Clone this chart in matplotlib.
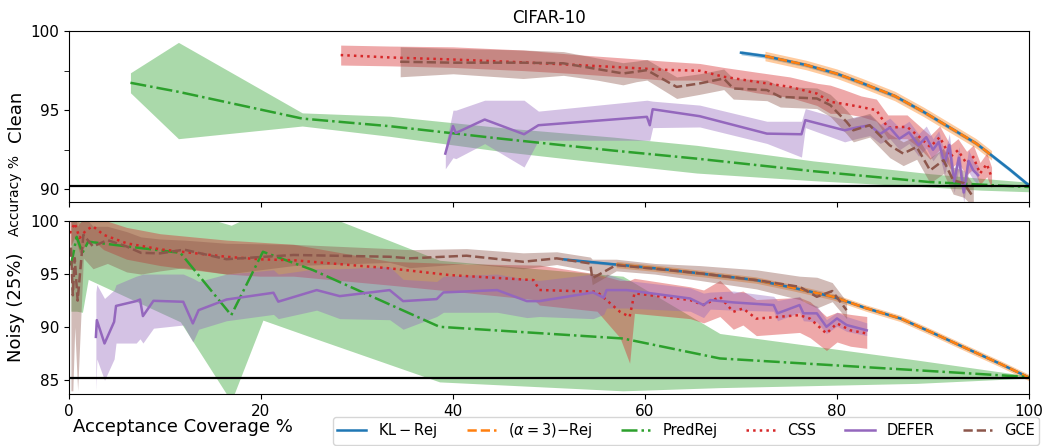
import numpy as np
import matplotlib
matplotlib.use("Agg")
import matplotlib.pyplot as plt
from matplotlib.ticker import FixedLocator
from matplotlib.lines import Line2D

# ---------------- DATA: top panel (Clean) ----------------
kl_top_x = [70.0, 72.5, 76.8, 80.0, 82.7, 86.0, 89.0, 92.5, 94.5, 96.1, 98.0, 100.0]
kl_top_y = [98.63, 98.42, 97.85, 97.3, 96.69, 95.9, 94.9, 93.63, 92.9, 92.15, 91.25, 90.25]
a3_top_x = [72.5, 76.8, 80.0, 82.7, 86.0, 89.0, 92.5, 94.5, 96.1]
a3_top_y = [98.42, 97.85, 97.3, 96.69, 95.9, 94.9, 93.63, 92.9, 92.15]

pr_top_x = [6.4, 11.4, 24.3, 33.4, 45.0, 56.7, 65.4, 77.5, 89.7, 95.0, 100.0]
pr_top_y = [96.73, 96.16, 94.47, 93.99, 93.2, 92.45, 91.94, 91.15, 90.46, 90.3, 90.15]
pr_top_lo = [96.1, 93.2, 94.0, 93.35, 92.4, 91.6, 91.03, 90.55, 90.15, 89.95, 89.85]
pr_top_hi = [97.36, 99.28, 94.83, 94.62, 93.9, 93.3, 92.78, 91.8, 90.99, 90.7, 90.45]

css_top_x = [28.3, 33.4, 40.0, 47.3, 53.0, 57.7, 62.0, 65.7, 68.2, 71.6, 75.1, 77.9, 79.3,
             80.7, 82.5, 84.1, 85.3, 87.3, 88.6, 89.7, 90.7, 91.8, 92.6, 93.5, 94.2, 94.9,
             95.6, 96.1]
css_top_y = [98.48, 98.33, 98.2, 98.02, 97.85, 97.7, 97.55, 97.49, 97.11, 96.79, 96.47, 96.05,
             95.53, 95.4, 95.2, 95.0, 93.9, 93.95, 93.3, 92.68, 93.3, 92.05, 92.47, 91.63,
             92.05, 91.0, 91.6, 90.78]
css_top_lo = [97.85, 97.8, 97.7, 97.5, 97.3, 97.1, 96.9, 96.9, 96.5, 96.1, 95.8, 95.3, 94.8,
              94.8, 94.6, 94.3, 93.2, 93.2, 92.6, 91.9, 92.5, 91.3, 91.7, 90.9, 91.3, 90.3,
              90.8, 90.1]
css_top_hi = [99.11, 99.05, 99.0, 98.8, 98.5, 98.3, 98.1, 97.95, 97.7, 97.4, 97.1, 96.7, 96.58,
              96.3, 95.9, 95.7, 94.7, 94.7, 94.0, 93.4, 94.0, 92.8, 93.2, 92.4, 92.8, 91.7,
              92.3, 91.4]

gce_top_x = [34.5, 40.0, 47.3, 51.5, 55.0, 57.7, 59.1, 60.2, 63.3, 65.7, 68.2, 69.2, 72.7,
             74.1, 77.9, 79.3, 81.0, 81.7, 83.4, 85.5, 86.9, 88.3, 89.7, 91.1, 92.1, 93.2,
             94.2]
gce_top_y = [98.06, 98.0, 98.0, 97.96, 97.6, 97.32, 97.43, 97.53, 96.47, 96.69, 97.0, 96.37,
             96.27, 95.84, 95.74, 95.32, 94.26, 93.73, 94.05, 92.78, 92.26, 92.68, 91.2, 91.84,
             90.57, 90.4, 89.5]
gce_top_lo = [97.11, 97.3, 97.0, 97.2, 96.9, 96.6, 96.8, 96.9, 95.74, 96.0, 96.3, 95.7, 95.6,
              95.2, 95.1, 94.6, 93.5, 93.0, 93.3, 92.0, 91.5, 91.9, 90.4, 91.0, 89.7, 89.5,
              88.9]
gce_top_hi = [99.0, 98.9, 98.8, 98.7, 98.3, 98.0, 98.1, 98.2, 97.1, 97.3, 97.6, 97.0, 96.9,
              96.5, 96.4, 96.0, 95.0, 94.5, 94.8, 93.5, 93.0, 93.4, 92.0, 92.6, 91.4, 91.2,
              90.3]

df_top_x = [39.2, 40.0, 40.3, 43.3, 47.4, 48.9, 60.2, 60.5, 60.8, 65.7, 72.7, 76.3, 76.7,
            80.8, 82.0, 83.4, 84.5, 85.5, 86.5, 87.5, 88.5, 89.3, 90.0, 90.6, 91.2, 91.7,
            92.2, 92.7, 93.2, 93.7, 94.2, 94.7]
df_top_y = [92.26, 94.0, 93.56, 94.41, 93.48, 94.05, 94.58, 94.05, 95.06, 94.62, 93.52, 93.48,
            94.37, 93.73, 93.9, 94.05, 93.5, 93.9, 93.2, 93.6, 92.8, 93.3, 92.5, 93.0, 91.6,
            92.8, 90.5, 92.0, 89.8, 91.8, 91.2, 90.9]
df_top_lo = [91.3, 92.0, 91.94, 92.89, 91.41, 93.1, 93.1, 93.1, 93.9, 93.94, 92.9, 92.04, 93.9,
             93.0, 93.2, 93.4, 92.9, 93.2, 92.5, 92.9, 92.1, 92.6, 91.8, 92.3, 90.9, 92.1,
             89.8, 91.3, 89.2, 91.1, 90.6, 90.3]
df_top_hi = [92.7, 95.0, 95.0, 95.63, 95.63, 94.94, 95.63, 95.6, 95.57, 95.32, 94.3, 94.3, 95.1,
             94.4, 94.6, 94.7, 94.1, 94.5, 93.9, 94.3, 93.5, 94.0, 93.2, 93.7, 92.3, 93.5,
             91.2, 92.7, 90.5, 92.5, 91.8, 91.5]

# ---------------- DATA: bottom panel (Noisy 25%) ----------------
kl_bot_x = [51.5, 57.0, 61.0, 65.7, 71.6, 75.5, 79.6, 83.0, 86.6, 90.0, 93.5, 97.0, 100.0]
kl_bot_y = [96.39, 95.9, 95.55, 95.07, 94.43, 93.7, 92.86, 91.8, 90.82, 89.45, 87.99, 86.55, 85.25]
a3_bot_x = [57.0, 61.0, 65.7, 71.6, 75.5, 79.6, 83.0, 86.6, 90.0, 93.5, 97.0, 100.0]
a3_bot_y = [95.9, 95.55, 95.07, 94.43, 93.7, 92.86, 91.8, 90.82, 89.45, 87.99, 86.55, 85.25]

pr_bot_x = [0.2, 0.8, 1.4, 2.0, 11.6, 16.9, 20.2, 25.4, 38.6, 57.7, 67.8, 88.3, 100.0]
pr_bot_y = [95.8, 98.5, 97.0, 98.05, 97.0, 91.13, 97.1, 95.38, 90.03, 88.93, 87.05, 85.94, 85.3]
pr_bot_lo = [91.5, 91.5, 91.4, 94.5, 90.5, 83.0, 90.66, 89.0, 84.84, 84.0, 84.3, 84.7, 85.2]
pr_bot_hi = [100.5, 101.0, 101.0, 101.0, 101.0, 99.6, 101.0, 101.0, 96.3, 94.8, 89.4, 86.9, 85.4]

css_bot_x = [0.1, 0.6, 1.1, 1.8, 2.5, 3.6, 6.0, 9.5, 16.4, 19.9, 23.4, 33.4, 39.7, 48.4, 49.0,
             55.0, 57.4, 58.4, 58.9, 64.7, 66.1, 67.8, 69.2, 70.2, 71.6, 76.1, 77.2, 78.9,
             80.0, 81.4, 83.1]
css_bot_y = [98.84, 99.8, 98.4, 99.15, 99.5, 98.7, 97.9, 97.33, 96.63, 96.39, 96.3, 95.54, 94.9,
             94.43, 93.5, 93.33, 91.44, 90.97, 93.18, 92.55, 92.08, 92.86, 91.44, 91.76, 90.8,
             91.13, 90.8, 89.4, 90.35, 89.7, 89.4]
css_bot_lo = [97.5, 98.5, 97.0, 97.8, 98.2, 97.3, 96.4, 95.8, 95.0, 94.8, 94.8, 93.96, 93.4,
              92.6, 92.08, 91.5, 89.0, 86.6, 91.3, 90.8, 90.4, 91.0, 89.8, 90.2, 89.2, 89.5,
              89.0, 87.8, 88.6, 88.2, 88.0]
css_bot_hi = [100.2, 101.0, 99.8, 100.4, 100.8, 100.1, 99.4, 98.8, 98.2, 98.0, 97.8, 96.2, 96.0,
              95.85, 95.85, 95.0, 94.4, 94.4, 94.6, 93.8, 93.5, 94.4, 93.2, 93.4, 92.6, 92.8,
              92.4, 91.0, 91.4, 91.2, 91.0]

gce_bot_x = [0.2, 0.4, 0.6, 0.9, 1.5, 2.5, 4.0, 6.0, 7.5, 9.5, 12.0, 16.4, 23.4, 33.4, 35.5,
             41.4, 47.3, 50.8, 54.3, 54.5, 57.0, 61.0, 65.7, 71.6, 76.1, 77.9, 79.5, 81.0]
gce_bot_y = [97.5, 93.0, 96.5, 92.5, 98.7, 97.6, 98.2, 97.6, 97.0, 96.95, 97.3, 96.4, 96.8,
             96.63, 96.48, 96.73, 96.16, 96.48, 96.0, 94.6, 95.85, 95.5, 95.07, 94.43, 93.8,
             92.86, 93.4, 91.6]
gce_bot_lo = [84.0, 84.0, 90.0, 84.0, 96.5, 95.5, 96.0, 95.2, 95.0, 95.3, 95.6, 95.0, 95.8,
              96.1, 95.6, 96.0, 95.5, 95.9, 95.3, 94.0, 95.3, 95.0, 94.4, 93.6, 92.6, 91.8,
              92.4, 90.8]
gce_bot_hi = [100.5, 100.5, 100.5, 99.5, 100.5, 99.5, 99.5, 99.0, 98.5, 98.3, 98.2, 97.9, 97.8,
              97.4, 97.3, 97.4, 97.0, 97.1, 96.6, 96.4, 96.4, 96.0, 95.8, 95.4, 94.8, 94.7,
              94.2, 92.4]

df_bot_x = [2.8, 2.9, 3.7, 4.7, 4.9, 7.0, 7.4, 7.7, 8.8, 11.9, 12.9, 13.5, 16.4, 21.3, 21.8,
            25.8, 28.2, 33.4, 34.8, 38.3, 39.0, 44.6, 47.7, 49.0, 54.6, 55.7, 56.0, 58.1, 64.7,
            66.1, 66.8, 69.2, 73.4, 73.8, 76.1, 76.5, 77.9, 78.9, 80.0, 81.0, 83.1]
df_bot_y = [89.08, 90.66, 88.46, 90.5, 92.0, 92.45, 92.6, 91.04, 92.48, 92.39, 90.35, 91.6,
            92.6, 93.24, 92.4, 93.49, 92.92, 93.49, 92.45, 92.64, 93.27, 93.49, 92.45, 92.45,
            93.27, 92.77, 93.49, 93.49, 92.7, 92.08, 92.55, 92.33, 92.08, 91.3, 92.08, 91.3,
            91.3, 90.03, 90.82, 90.2, 89.7]
df_bot_lo = [84.0, 87.0, 85.0, 87.0, 88.5, 88.5, 88.9, 88.5, 89.9, 90.2, 88.6, 89.8, 90.6,
             91.2, 90.8, 91.6, 90.8, 90.7, 89.8, 91.0, 91.4, 91.4, 90.9, 91.0, 90.8, 91.2,
             91.8, 91.8, 91.5, 90.9, 91.7, 91.6, 91.5, 90.6, 91.4, 90.6, 90.5, 89.4, 90.1,
             89.6, 89.2]
df_bot_hi = [93.3, 94.0, 92.7, 93.5, 94.0, 94.8, 94.9, 95.0, 95.0, 95.0, 94.6, 94.3, 95.0,
             95.4, 95.0, 95.5, 95.5, 95.7, 94.5, 94.3, 94.8, 95.0, 94.5, 94.4, 95.0, 94.6,
             95.0, 94.4, 93.7, 93.2, 93.3, 93.4, 92.9, 92.5, 92.9, 92.4, 92.0, 90.7, 91.4,
             91.0, 90.4]

base_clean = 90.2
base_noisy = 85.25

labels = [r"$\mathrm{KL-Rej}$", r"$(\alpha=3)$" + "\u2212Rej", "PredRej", "CSS", "DEFER", "GCE"]
colors = ["tab:blue", "tab:orange", "tab:green", "tab:red", "tab:purple", "tab:brown"]

# ---------------- FIGURE ----------------
fig = plt.figure(figsize=(10.47, 4.46), dpi=100)
ax1 = fig.add_axes([0.0659, 0.547, 0.9169, 0.3835])
ax2 = fig.add_axes([0.0659, 0.1166, 0.9169, 0.3879], sharex=ax1)

A = 0.4
LW = 1.8


def panel(ax, kl, a3, pr, css, gce, df, base):
    ax.fill_between(kl[0], np.array(kl[1]) - 0.13, np.array(kl[1]) + 0.13,
                    color=colors[0], alpha=A, lw=0)
    ax.plot(kl[0], kl[1], color=colors[0], lw=LW, ls="-")
    ax.fill_between(a3[0], np.array(a3[1]) - 0.3, np.array(a3[1]) + 0.3,
                    color=colors[1], alpha=A, lw=0)
    ax.plot(a3[0], a3[1], color=colors[1], lw=LW, ls="--")
    ax.fill_between(pr[0], pr[2], pr[3], color=colors[2], alpha=A, lw=0)
    ax.plot(pr[0], pr[1], color=colors[2], lw=LW, ls="-.")
    ax.fill_between(css[0], css[2], css[3], color=colors[3], alpha=A, lw=0)
    ax.plot(css[0], css[1], color=colors[3], lw=LW, ls=":")
    ax.fill_between(df[0], df[2], df[3], color=colors[4], alpha=A, lw=0)
    ax.plot(df[0], df[1], color=colors[4], lw=LW, ls="-")
    ax.fill_between(gce[0], gce[2], gce[3], color=colors[5], alpha=A, lw=0)
    ax.plot(gce[0], gce[1], color=colors[5], lw=LW, ls="--")
    ax.axhline(base, color="black", lw=1.6)


panel(ax1, (kl_top_x, kl_top_y), (a3_top_x, a3_top_y),
      (pr_top_x, pr_top_y, pr_top_lo, pr_top_hi),
      (css_top_x, css_top_y, css_top_lo, css_top_hi),
      (gce_top_x, gce_top_y, gce_top_lo, gce_top_hi),
      (df_top_x, df_top_y, df_top_lo, df_top_hi), base_clean)
panel(ax2, (kl_bot_x, kl_bot_y), (a3_bot_x, a3_bot_y),
      (pr_bot_x, pr_bot_y, pr_bot_lo, pr_bot_hi),
      (css_bot_x, css_bot_y, css_bot_lo, css_bot_hi),
      (gce_bot_x, gce_bot_y, gce_bot_lo, gce_bot_hi),
      (df_bot_x, df_bot_y, df_bot_lo, df_bot_hi), base_noisy)

ax1.set_xlim(0, 100)
ax1.set_ylim(89.2, 100)
ax2.set_ylim(83.7, 100)
ax1.set_yticks([90, 95, 100])
ax1.yaxis.set_minor_locator(FixedLocator([92.5, 97.5]))
ax1.tick_params(axis="y", which="minor", length=3.5)
ax2.set_yticks([85, 90, 95, 100])
ax2.set_xticks([0, 20, 40, 60, 80, 100])
plt.setp(ax1.get_xticklabels(), visible=False)
for ax in (ax1, ax2):
    ax.tick_params(labelsize=11)

ax1.set_ylabel("Clean", fontsize=13)
ax2.set_ylabel("Noisy (25%)", fontsize=13)
ax1.set_title("CIFAR-10", fontsize=12)
fig.text(0.014, 0.562, "Accuracy %", rotation=90, ha="center", va="center", fontsize=10)
fig.text(73 / 1047, 1 - 427 / 446, "Acceptance Coverage %", ha="left", va="center", fontsize=13)

handles = [Line2D([], [], color=colors[0], lw=LW, ls="-"),
           Line2D([], [], color=colors[1], lw=LW, ls="--"),
           Line2D([], [], color=colors[2], lw=LW, ls="-."),
           Line2D([], [], color=colors[3], lw=LW, ls=":"),
           Line2D([], [], color=colors[4], lw=LW, ls="-"),
           Line2D([], [], color=colors[5], lw=LW, ls="--")]
fig.legend(handles, labels, ncol=6, loc="lower right", bbox_to_anchor=(0.994, 0.0),
           fontsize=10.5, frameon=True, columnspacing=2.0, handlelength=2.0,
           handletextpad=0.8, borderaxespad=0.1, borderpad=0.3)

fig.savefig("out.png", dpi=100)
